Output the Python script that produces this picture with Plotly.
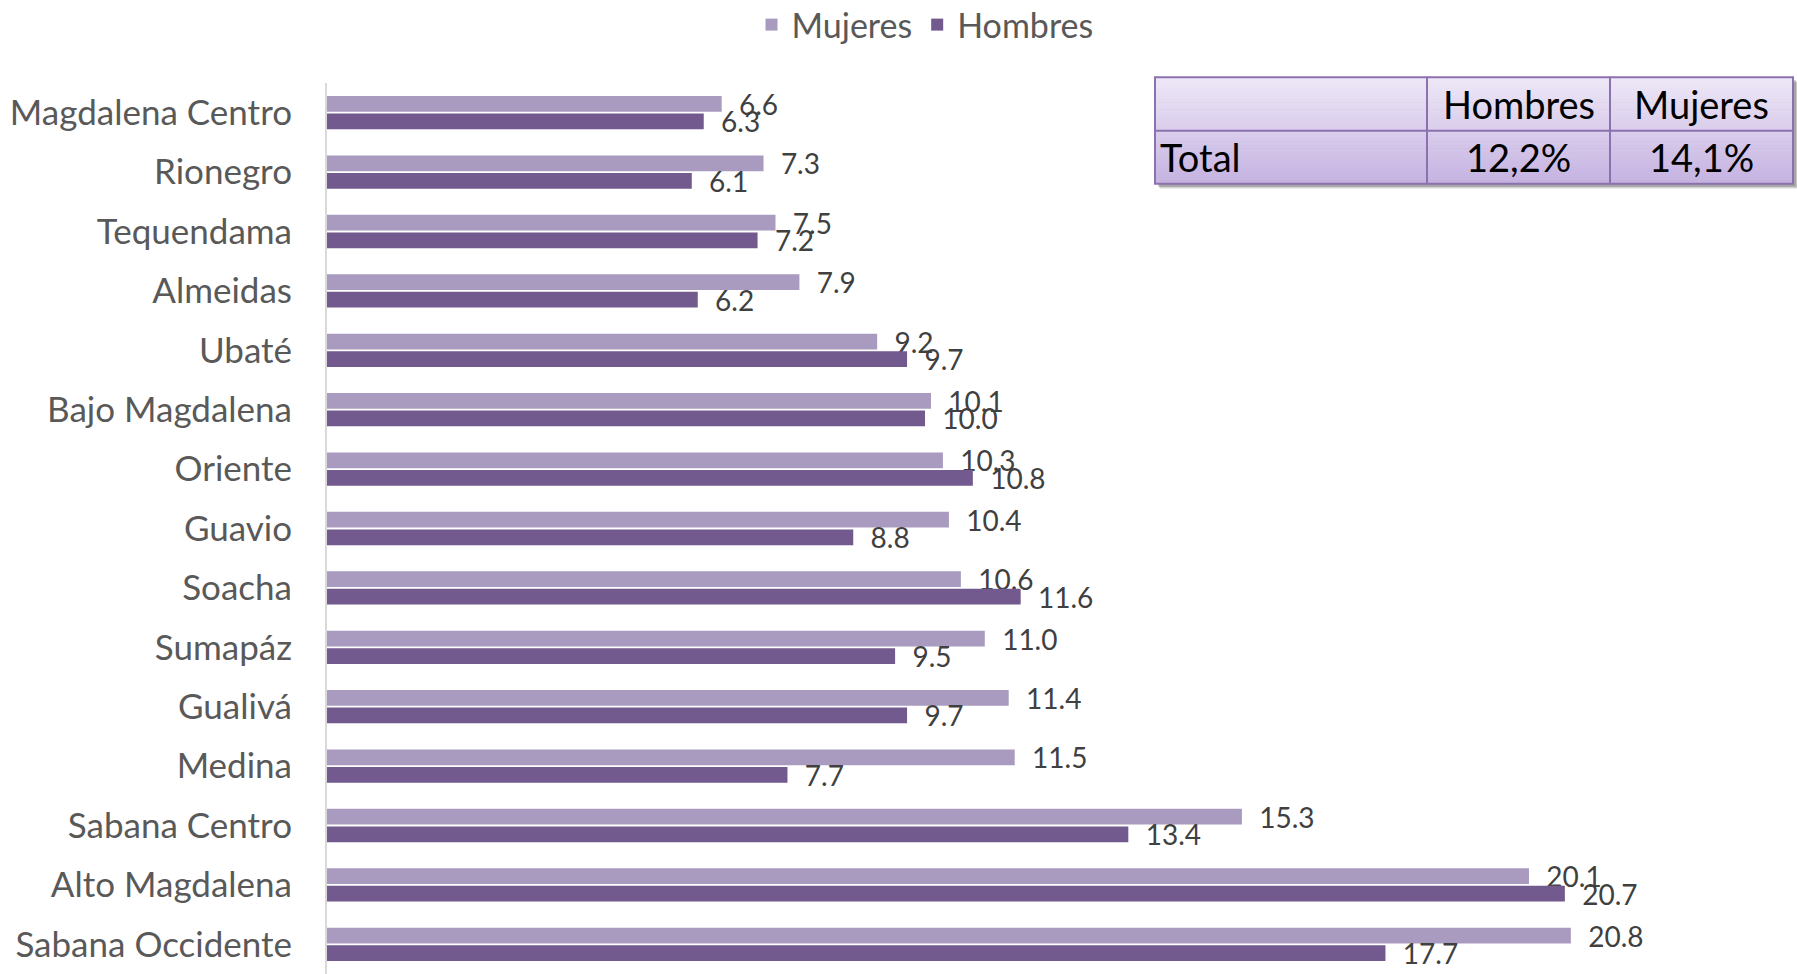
import plotly.graph_objects as go

# ---- data ----
categorias = ["Magdalena Centro", "Rionegro", "Tequendama", "Almeidas", "Ubaté",
              "Bajo Magdalena", "Oriente", "Guavio", "Soacha", "Sumapáz",
              "Gualivá", "Medina", "Sabana Centro", "Alto Magdalena", "Sabana Occidente"]
mujeres = [6.6, 7.3, 7.5, 7.9, 9.2, 10.1, 10.3, 10.4, 10.6, 11.0, 11.4, 11.5, 15.3, 20.1, 20.8]
hombres = [6.3, 6.1, 7.2, 6.2, 9.7, 10.0, 10.8, 8.8, 11.6, 9.5, 9.7, 7.7, 13.4, 20.7, 17.7]

tabla_columnas = ["", "Hombres", "Mujeres"]
tabla_fila = ["Total", "12,2%", "14,1%"]

# ---- layout constants ----
W, H = 1797, 974
ML, MR, MT, MB = 327, 0, 83, 0
PW, PH = W - ML - MR, H - MT - MB
FONT = "Lato"

def xp(px):
    return (px - ML) / PW

def yp(py):
    return (H - MB - py) / PH

C_MUJ = "#A99BBF"
C_HOM = "#72598E"
NB = "\u00a0\u00a0"

fig = go.Figure()
fig.add_trace(go.Bar(
    name="Mujeres", y=categorias, x=mujeres, orientation="h",
    marker=dict(color=C_MUJ, line=dict(width=0)),
    texttemplate=NB + "%{x:.1f}", textposition="outside", constraintext="none",
    cliponaxis=False, textfont=dict(family=FONT, size=28, color="#404040"),
    hoverinfo="x+y+name",
))
fig.add_trace(go.Bar(
    name="Hombres", y=categorias, x=hombres, orientation="h",
    marker=dict(color=C_HOM, line=dict(width=0)),
    texttemplate=NB + "%{x:.1f}", textposition="outside", constraintext="none",
    cliponaxis=False, textfont=dict(family=FONT, size=28, color="#404040"),
    hoverinfo="x+y+name",
))

# ---- table (top right) ----
shapes = []
tx0, tx1, tx2, tx3 = 1155, 1427, 1610, 1793
ty0, ty1, ty2 = 77.3, 130.7, 183.7
# shadow
for off, op in [(5, 0.12), (4, 0.18), (3, 0.25)]:
    shapes.append(dict(type="rect", xref="paper", yref="paper",
                       x0=xp(tx0 + off), x1=xp(tx3 + off), y0=yp(ty2 + off), y1=yp(ty0 + off),
                       fillcolor=f"rgba(60,60,60,{op})", line=dict(width=0), layer="above"))
# gradient fill
n = 30
c_top = (238, 232, 247)
c_bot = (197, 178, 225)
for i in range(n):
    t = (i + 0.5) / n
    c = tuple(int(round(c_top[k] + (c_bot[k] - c_top[k]) * t)) for k in range(3))
    y_a = ty0 + (ty2 - ty0) * i / n
    y_b = ty0 + (ty2 - ty0) * (i + 1) / n + 0.6
    shapes.append(dict(type="rect", xref="paper", yref="paper",
                       x0=xp(tx0), x1=xp(tx3), y0=yp(min(y_b, ty2)), y1=yp(y_a),
                       fillcolor=f"rgb{c}", line=dict(width=0), layer="above"))
bcol = "#8B72AE"
shapes.append(dict(type="rect", xref="paper", yref="paper",
                   x0=xp(tx0), x1=xp(tx3), y0=yp(ty2), y1=yp(ty0),
                   fillcolor="rgba(0,0,0,0)", line=dict(color=bcol, width=2), layer="above"))
shapes.append(dict(type="line", xref="paper", yref="paper",
                   x0=xp(tx0), x1=xp(tx3), y0=yp(ty1), y1=yp(ty1),
                   line=dict(color=bcol, width=2), layer="above"))
for xv in (tx1, tx2):
    shapes.append(dict(type="line", xref="paper", yref="paper",
                       x0=xp(xv), x1=xp(xv), y0=yp(ty2), y1=yp(ty0),
                       line=dict(color=bcol, width=2), layer="above"))

annotations = []
tfont = dict(family=FONT, size=38, color="#000000")
col_centers = [None, (tx1 + tx2) / 2, (tx2 + tx3) / 2]
for j in (1, 2):
    annotations.append(dict(xref="paper", yref="paper", x=xp(col_centers[j]), y=yp((ty0 + ty1) / 2),
                            text=tabla_columnas[j], showarrow=False, xanchor="center",
                            yanchor="middle", font=tfont))
annotations.append(dict(xref="paper", yref="paper", x=xp(tx0 + 3), y=yp((ty1 + ty2) / 2),
                        text=tabla_fila[0], showarrow=False, xanchor="left",
                        yanchor="middle", font=tfont))
for j in (1, 2):
    annotations.append(dict(xref="paper", yref="paper", x=xp(col_centers[j]), y=yp((ty1 + ty2) / 2),
                            text=tabla_fila[j], showarrow=False, xanchor="center",
                            yanchor="middle", font=tfont))

fig.update_layout(
    width=W, height=H,
    margin=dict(l=ML, r=MR, t=MT, b=MB, pad=0, autoexpand=False),
    paper_bgcolor="white", plot_bgcolor="white",
    barmode="group", bargap=0.41, bargroupgap=0.1,
    font=dict(family=FONT, color="#595959"),
    showlegend=True,
    legend=dict(orientation="h", x=xp(925), xanchor="center", y=yp(25), yanchor="middle",
                font=dict(family=FONT, size=34, color="#595959"), bgcolor="rgba(0,0,0,0)",
                traceorder="normal"),
    xaxis=dict(range=[0, PW / 59.8], visible=False, fixedrange=True),
    yaxis=dict(autorange="reversed", showline=True, linecolor="#D9D9D9", linewidth=2,
               showgrid=False, zeroline=False, ticks="", automargin=False,
               ticklabelstandoff=26,
               tickfont=dict(family=FONT, size=35, color="#595959")),
    shapes=shapes,
    annotations=annotations,
)

fig.write_html("out.html", config={"displayModeBar": False},
               post_script="document.body.style.margin='0';document.body.style.overflow='hidden';")
